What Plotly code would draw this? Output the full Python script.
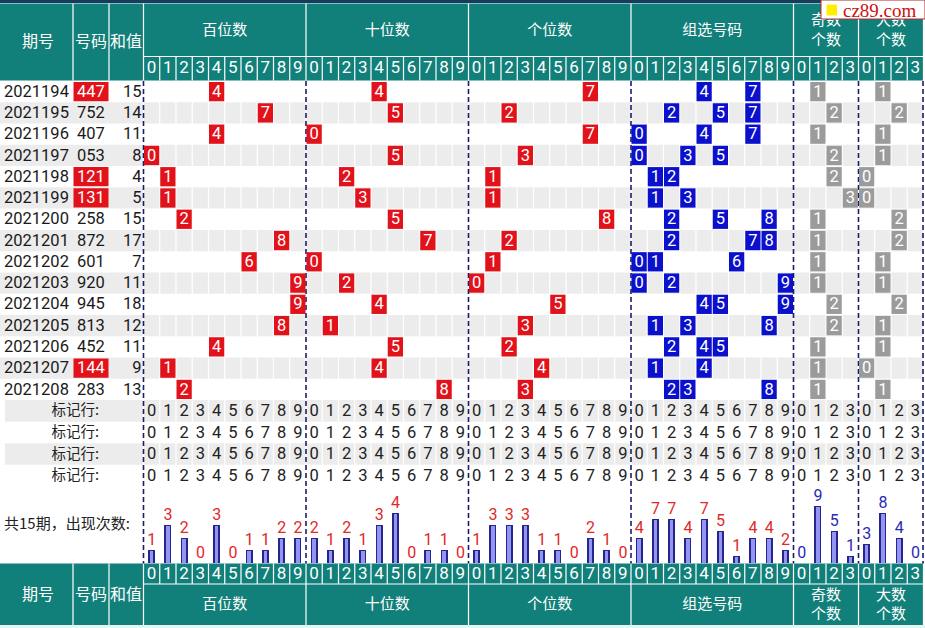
import plotly.graph_objects as go

# ---------------- data ----------------
issues = ["2021194", "2021195", "2021196", "2021197", "2021198", "2021199", "2021200",
          "2021201", "2021202", "2021203", "2021204", "2021205", "2021206", "2021207", "2021208"]
draws = ["447", "752", "407", "053", "121", "131", "258", "872", "601", "920",
         "945", "813", "452", "144", "283"]
sums = [15, 14, 11, 8, 4, 5, 15, 17, 7, 11, 18, 12, 11, 9, 13]
hundreds = [4, 7, 4, 0, 1, 1, 2, 8, 6, 9, 9, 8, 4, 1, 2]
tens = [4, 5, 0, 5, 2, 3, 5, 7, 0, 2, 4, 1, 5, 4, 8]
units = [7, 2, 7, 3, 1, 1, 8, 2, 1, 0, 5, 3, 2, 4, 3]
odd_counts = [1, 2, 1, 2, 2, 3, 1, 1, 1, 1, 2, 2, 1, 1, 1]
big_counts = [1, 2, 1, 1, 0, 0, 2, 2, 1, 1, 2, 1, 1, 0, 1]
count_hundreds = [1, 3, 2, 0, 3, 0, 1, 1, 2, 2]
count_tens = [2, 1, 2, 1, 3, 4, 0, 1, 1, 0]
count_units = [1, 3, 3, 3, 1, 1, 0, 2, 1, 0]
count_group = [4, 7, 7, 4, 7, 5, 1, 4, 4, 2]
count_odd = [0, 9, 5, 1]
count_big = [3, 8, 4, 0]
section_titles = ["百位数", "十位数", "个位数", "组选号码", "奇数<br>个数", "大数<br>个数"]
section_ticks = [list("0123456789")] * 4 + [list("0123")] * 2
left_titles = ["期号", "号码", "和值"]
mark_label = "标记行:"
count_label = "共15期，出现次数:"
watermark = "cz89.com"
n_mark_rows = 4

# ---------------- styling / geometry ----------------
W, H = 925, 628
TEAL = "#12807a"
RED = "#e2121a"
BLUE = "#0b10cc"
GRAY_CELL = "#9b9b9b"
ROW_GRAY = "#ececec"
NAVY = "#1c1c6a"
FONT = "Noto Sans CJK SC"
NUMFONT = "Roboto"

LEFT_EDGES = [0, 73, 109, 143.5]
X0 = 143.5
CW = 16.25
HEAD_TOP, TITLE_BOT, HEAD_BOT = 3.5, 56.5, 80.5
ROW0, RH = 81.0, 21.27
MRH = 21.6
MARK0 = ROW0 + len(issues) * RH
COUNT_TOP = MARK0 + n_mark_rows * MRH
BASE = 562.5
FOOT_TOP, FOOT_DIG, FOOT_BOT = 563.5, 584.0, 625.0
BAR_SCALE = [12.5, 12.5, 12.5, 6.25, 6.25, 6.25]
TY = 1.0  # small downward nudge for text centring

ncols = [len(t) for t in section_ticks]
offsets = [sum(ncols[:i]) for i in range(len(ncols))]
TOTAL_COLS = sum(ncols)
X_END = X0 + TOTAL_COLS * CW


def col_left(sec, k):
    return X0 + (offsets[sec] + k) * CW


def col_center(sec, k):
    return col_left(sec, k) + CW / 2


def row_top(i):
    return ROW0 + i * RH


def row_center(i):
    return row_top(i) + RH / 2


shapes = []


def rect(x0, y0, x1, y1, color, layer="below", line=None):
    d = dict(type="rect", xref="x", yref="y", x0=x0, x1=x1, y0=y0, y1=y1,
             fillcolor=color, line=dict(width=0), layer=layer)
    if line:
        d["line"] = line
    shapes.append(d)


def path(segments, color, width, dash=None):
    p = " ".join(f"M{a},{b} L{c},{d}" for a, b, c, d in segments)
    ln = dict(color=color, width=width)
    if dash:
        ln["dash"] = dash
    shapes.append(dict(type="path", xref="x", yref="y", path=p, line=ln, layer="below"))


# backgrounds
rect(0, 0, W, 3, "#173c5c")
rect(0, HEAD_TOP, X_END, HEAD_BOT, TEAL)
rect(0, FOOT_TOP, X_END, FOOT_BOT, TEAL)
rect(0, FOOT_BOT, W, H, "#e2f6f4")
for i in range(len(issues)):
    if i % 2 == 1:
        rect(0, row_top(i), X_END, row_top(i) + RH, ROW_GRAY)
for m in range(n_mark_rows):
    if m % 2 == 0:
        rect(5, MARK0 + m * MRH, X_END, MARK0 + (m + 1) * MRH, ROW_GRAY)

# white grid lines
segs = []
for x in LEFT_EDGES[1:]:
    segs.append((x, HEAD_TOP, x, HEAD_BOT))
    segs.append((x, FOOT_TOP, x, FOOT_BOT))
segs.append((X0, TITLE_BOT, X_END, TITLE_BOT))
segs.append((X0, FOOT_DIG, X_END, FOOT_DIG))
for s in range(len(ncols)):
    for k in range(ncols[s] + 1):
        x = col_left(s, k)
        if k == 0 or k == ncols[s]:
            segs.append((x, HEAD_TOP, x, HEAD_BOT))
            segs.append((x, FOOT_TOP, x, FOOT_BOT))
        else:
            segs.append((x, TITLE_BOT, x, HEAD_BOT))
            segs.append((x, FOOT_TOP, x, FOOT_DIG))
        segs.append((x, ROW0, x, COUNT_TOP))
path(segs, "white", 1.2)

# dashed section separators
dsegs = []
for s in range(len(ncols)):
    dsegs.append((col_left(s, 0), ROW0, col_left(s, 0), FOOT_TOP))
dsegs.append((X_END - 0.5, ROW0, X_END - 0.5, FOOT_TOP))
path(dsegs, NAVY, 1.6, dash="5px,3px")

# cells
cx, cy, ct = [], [], []
positions = [hundreds, tens, units]
for i, d in enumerate(draws):
    yt, yb = row_top(i) + 1, row_top(i) + RH - 1
    if len(set(d)) < 3:
        rect(LEFT_EDGES[1] + 0.5, yt, LEFT_EDGES[2] - 0.5, yb, RED)
    marks = [(s, vals[i], RED) for s, vals in enumerate(positions)]
    marks += [(3, v, BLUE) for v in sorted(set(int(c) for c in d))]
    marks += [(4, odd_counts[i], GRAY_CELL), (5, big_counts[i], GRAY_CELL)]
    for s, v, col in marks:
        rect(col_left(s, v) + 0.5, yt, col_left(s, v + 1) - 0.5, yb, col)
        cx.append(col_center(s, v))
        cy.append(row_center(i) + TY)
        ct.append(str(v))

# watermark box (above everything)
shapes.append(dict(type="rect", xref="x", yref="y", x0=821, x1=925, y0=0, y1=19,
                   fillcolor="white", line=dict(color="#b03030", width=1), layer="above"))
shapes.append(dict(type="rect", xref="x", yref="y", x0=826.5, x1=837, y0=4.5, y1=15.5,
                   fillcolor="#ffee00", line=dict(width=0), layer="above"))

fig = go.Figure()


def text_trace(xs, ys, texts, color, size=15, pos="middle center", family=FONT):
    fig.add_trace(go.Scatter(x=xs, y=ys, text=texts, mode="text", textposition=pos,
                             textfont=dict(color=color, size=size, family=family),
                             hoverinfo="skip", showlegend=False, cliponaxis=False))


# count bars
counts = [count_hundreds, count_tens, count_units, count_group, count_odd, count_big]
bx, by, by_in = [], [], []
red_l, blue_l = ([], [], []), ([], [], [])
for s, cs in enumerate(counts):
    for k, c in enumerate(cs):
        h = c * BAR_SCALE[s]
        bx.append(col_center(s, k))
        by.append(-h)
        by_in.append(-max(h - 1, 0))
        tgt = red_l if s < 4 else blue_l
        tgt[0].append(col_center(s, k))
        tgt[1].append(BASE - h - 9)
        tgt[2].append(str(c))
fig.add_trace(go.Bar(x=bx, y=by, base=BASE, width=7, marker=dict(color="#25258a", line=dict(width=0)),
                     hoverinfo="skip", showlegend=False))
fig.add_trace(go.Bar(x=bx, y=by_in, base=BASE, width=3.4, marker=dict(color="#9494f4", line=dict(width=0)),
                     hoverinfo="skip", showlegend=False))
text_trace(*red_l, "#e02828", 16, family=NUMFONT)
text_trace(*blue_l, "#2a2ab4", 16, family=NUMFONT)

# header + footer texts
left_centers = [38, 91, 126]
text_trace(left_centers, [43] * 3, left_titles, "white", 16)
text_trace(left_centers, [596] * 3, left_titles, "white", 16)
sec_cx = [(col_left(s, 0) + col_left(s, ncols[s])) / 2 for s in range(len(ncols))]
text_trace(sec_cx, [31] * len(ncols), section_titles, "white", 15)
text_trace(sec_cx, [605.5] * len(ncols), section_titles, "white", 15)
hx, ht = [], []
for s in range(len(ncols)):
    for k, t in enumerate(section_ticks[s]):
        hx.append(col_center(s, k))
        ht.append(t)
text_trace(hx, [69] * len(hx), ht, "white", 17, family=NUMFONT)
text_trace(hx, [574.5] * len(hx), ht, "white", 17, family=NUMFONT)

# data rows
rows_y = [row_center(i) + TY for i in range(len(issues))]
text_trace([4] * len(issues), rows_y, issues, "#1a1a1a", 16.5, "middle right", NUMFONT)
plain = [i for i, d in enumerate(draws) if len(set(d)) == 3]
hot = [i for i, d in enumerate(draws) if len(set(d)) < 3]
text_trace([91] * len(plain), [rows_y[i] for i in plain], [draws[i] for i in plain], "#1a1a1a", 16.5,
           family=NUMFONT)
text_trace([91] * len(hot), [rows_y[i] for i in hot], [draws[i] for i in hot], "white", 16.5,
           family=NUMFONT)
text_trace([141.5] * len(sums), rows_y, [str(v) for v in sums], "#1a1a1a", 16.5, "middle left", NUMFONT)
text_trace(cx, cy, ct, "white", 16.5, family=NUMFONT)

# mark rows
mx, my, mt = [], [], []
mark_y = [MARK0 + (m + 0.5) * MRH + TY for m in range(n_mark_rows)]
for m in range(n_mark_rows):
    for s in range(len(ncols)):
        for k, t in enumerate(section_ticks[s]):
            mx.append(col_center(s, k))
            my.append(mark_y[m])
            mt.append(t)
text_trace([99] * n_mark_rows, mark_y, [mark_label] * n_mark_rows, "#222222", 14.5, "middle left")
text_trace(mx, my, mt, "#222222", 16.5, family=NUMFONT)

# count label
text_trace([4], [525], [count_label], "#222222", 15, "middle right")

fig.add_annotation(x=880, y=10, xref="x", yref="y", text=watermark, showarrow=False,
                   font=dict(family="Liberation Serif", size=19, color="#cc1111"),
                   borderpad=0)

fig.update_layout(
    width=W, height=H, margin=dict(l=0, r=0, t=0, b=0),
    paper_bgcolor="white", plot_bgcolor="white",
    xaxis=dict(range=[0, W], visible=False, fixedrange=True),
    yaxis=dict(range=[H, 0], visible=False, fixedrange=True),
    barmode="overlay", bargap=0, showlegend=False, shapes=shapes,
)
fig.write_html("out.html", config={"displayModeBar": False},
               post_script="document.body.style.margin='0';")
